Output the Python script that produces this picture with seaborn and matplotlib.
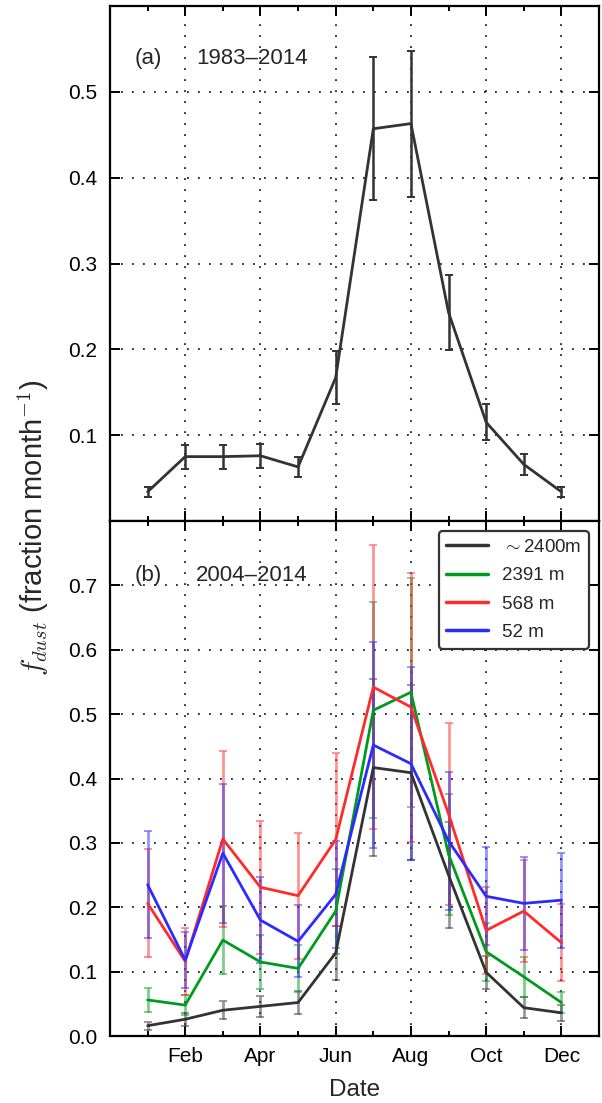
import numpy as np
import pandas as pd
import matplotlib
matplotlib.use("Agg")
import matplotlib.pyplot as plt
import seaborn as sns

# ---------------- data ----------------
months = [1, 2, 3, 4, 5, 6, 7, 8, 9, 10, 11, 12]
major_months = [2, 4, 6, 8, 10, 12]
major_labels = ["Feb", "Apr", "Jun", "Aug", "Oct", "Dec"]
minor_months = [1, 3, 5, 7, 9, 11]

# panel (a) 1983-2014
a_mean = [0.034, 0.075, 0.075, 0.076, 0.063, 0.167, 0.457, 0.463, 0.243, 0.115, 0.066, 0.034]
a_err = [0.006, 0.014, 0.014, 0.014, 0.012, 0.031, 0.083, 0.085, 0.044, 0.021, 0.012, 0.006]

# panel (b) 2004-2014
s2400_mean = [0.016, 0.026, 0.040, 0.046, 0.052, 0.129, 0.417, 0.409, 0.250, 0.099, 0.044, 0.036]
s2400_err = [0.006, 0.010, 0.014, 0.016, 0.018, 0.042, 0.138, 0.136, 0.083, 0.026, 0.016, 0.012]
s2391_mean = [0.056, 0.048, 0.149, 0.115, 0.105, 0.194, 0.506, 0.534, 0.282, 0.131, 0.092, 0.052]
s2391_err = [0.019, 0.016, 0.053, 0.042, 0.037, 0.066, 0.168, 0.178, 0.094, 0.045, 0.031, 0.016]
s568_mean = [0.206, 0.116, 0.306, 0.231, 0.218, 0.305, 0.542, 0.511, 0.345, 0.164, 0.194, 0.145]
s568_err = [0.084, 0.052, 0.136, 0.103, 0.098, 0.134, 0.221, 0.209, 0.141, 0.067, 0.079, 0.060]
s52_mean = [0.235, 0.118, 0.284, 0.180, 0.147, 0.220, 0.452, 0.423, 0.303, 0.217, 0.206, 0.211]
s52_err = [0.083, 0.044, 0.108, 0.067, 0.056, 0.083, 0.160, 0.150, 0.107, 0.076, 0.072, 0.074]

series_labels = [r"${\sim}$2400m", "2391 m", "568 m", "52 m"]
series_means = [s2400_mean, s2391_mean, s568_mean, s52_mean]
series_errs = [s2400_err, s2391_err, s568_err, s52_err]
series_colors = ["#333333", "#009a1e", "#ff2b2b", "#2b2bff"]

a_yticks = [0.1, 0.2, 0.3, 0.4, 0.5]
b_yticks = [0.0, 0.1, 0.2, 0.3, 0.4, 0.5, 0.6, 0.7]

# ---------------- style ----------------
sns.set_style("ticks")
plt.rcParams["font.family"] = ["Liberation Sans", "DejaVu Sans"]
plt.rcParams["mathtext.fontset"] = "cm"
plt.rcParams["axes.linewidth"] = 1.6

fig = plt.figure(figsize=(6.02, 11.03), dpi=100)
ax1 = fig.add_axes([110 / 602, 1 - 521 / 1103, 489 / 602, 515 / 1103])
ax2 = fig.add_axes([110 / 602, 1 - 1036 / 1103, 489 / 602, 515 / 1103])

grid_ls = (0, (1.2, 6.0))


def style_axes(ax, yticks, ylim):
    ax.set_xlim(0, 13)
    ax.set_ylim(*ylim)
    ax.set_xticks(major_months)
    ax.set_xticks(minor_months, minor=True)
    ax.set_yticks(yticks)
    ax.tick_params(which="both", direction="in", top=True, right=True,
                   labelsize=15, width=1.4, colors="black")
    ax.tick_params(which="major", length=7)
    ax.tick_params(which="minor", length=3.5)
    ax.tick_params(axis="y", pad=9)
    ax.tick_params(axis="x", pad=8)
    ax.grid(True, which="major", color="black", linestyle=grid_ls, linewidth=1.1)
    for sp in ax.spines.values():
        sp.set_color("black")
        sp.set_linewidth(1.6)
    ax.set_axisbelow(True)


# ---------------- panel (a) ----------------
df_a = pd.DataFrame({"month": months, "value": a_mean})
ax1.errorbar(months, a_mean, yerr=a_err, fmt="none", ecolor="#333333",
             elinewidth=1.8, capsize=3, capthick=1.4, zorder=3)
sns.lineplot(data=df_a, x="month", y="value", color="#333333", linewidth=2.0,
             ax=ax1, zorder=4)
style_axes(ax1, a_yticks, (0, 0.6))
ax1.set_xticklabels([])
ax1.set_xlabel("")
ax1.set_ylabel("")
ax1.text(0.051, 0.899, "(a)", transform=ax1.transAxes, fontsize=16, va="center", ha="left")
ax1.text(0.176, 0.899, "1983\u20132014", transform=ax1.transAxes, fontsize=16, va="center", ha="left")

# ---------------- panel (b) ----------------
for lab, m, e, c in zip(series_labels, series_means, series_errs, series_colors):
    ax2.errorbar(months, m, yerr=e, fmt="none", ecolor=c, alpha=0.5,
                 elinewidth=2.0, capsize=3, capthick=1.4, zorder=3)
for lab, m, c in zip(series_labels, series_means, series_colors):
    df = pd.DataFrame({"month": months, "value": m})
    sns.lineplot(data=df, x="month", y="value", color=c, linewidth=2.0,
                 ax=ax2, label=lab, zorder=4)
style_axes(ax2, b_yticks, (0, 0.8))
ax2.set_xticklabels(major_labels)
ax2.set_xlabel("Date", fontsize=17.5, labelpad=9)
ax2.set_ylabel("")
ax2.text(0.051, 0.895, "(b)", transform=ax2.transAxes, fontsize=16, va="center", ha="left")
ax2.text(0.176, 0.895, "2004\u20132014", transform=ax2.transAxes, fontsize=16, va="center", ha="left")

leg = ax2.legend(loc="upper right", bbox_to_anchor=(0.98, 0.98), borderaxespad=0,
                 fontsize=13.5, handlelength=2.24, handletextpad=0.75, labelspacing=0.6,
                 frameon=True, fancybox=True, framealpha=1, borderpad=0.4)
leg.get_frame().set_edgecolor("#333333")
leg.get_frame().set_linewidth(1.6)
for h in leg.get_lines():
    h.set_linewidth(2.5)

fig.text(33 / 602, 1 - 528 / 1103, r"$f_{dust}$ (fraction month$^{-1}$)",
         rotation=90, va="center", ha="center", fontsize=21)

fig.savefig("out.png", dpi=100)
